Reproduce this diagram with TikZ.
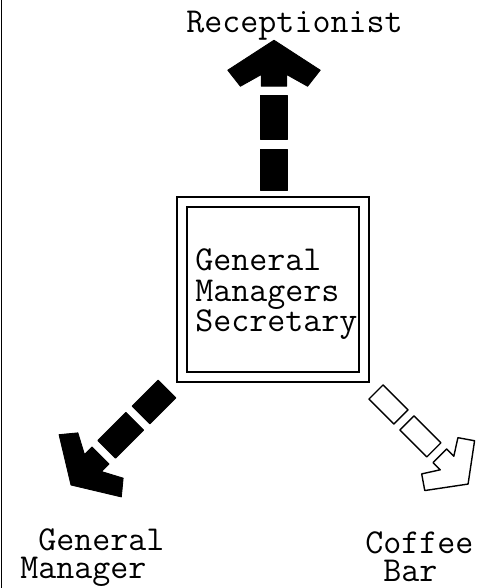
\documentclass[tikz,border=0pt]{standalone}
\usepackage{fontspec}
\usepackage{tikz}

% block arrow drawn along +x, tip at 140
\newcommand{\blockarrow}[1]{%
  \path[#1] (0,-12.5) rectangle (38,12.5);
  \path[#1] (47,-12.5) rectangle (88,12.5);
  \path[#1] (97,-12) -- (108,-12) -- (97,-32) -- (112,-44) -- (140,0)
    -- (112,44) -- (97,32) -- (108,12) -- (97,12) -- cycle;}

\begin{document}
\begin{tikzpicture}[
  roombox/.style={draw, double, double distance=1.6mm, line width=0.4mm,
    minimum width=3.63cm, minimum height=3.5cm, inner sep=0pt},
  roomlabel/.style={font=\fontsize{19.9}{15.9}\selectfont\ttfamily, inner sep=0pt},
  solidarrow/.style={fill=black, draw=black, line width=0.5pt, line join=round},
  hollowarrow/.style={fill=white, draw=black, line width=0.8pt, line join=round}]
\useasboundingbox (0,0) rectangle (9.66,11.76);
\draw[line width=0.6pt] (0.035,0) -- (0.035,11.76);

\node[roombox] (sec) at (5.455,5.97) {};
\node[roomlabel, font=\fontsize{19.9}{17.6}\selectfont\ttfamily, align=left,
  anchor=north west] (sectext) at (3.90,6.80) {General\\Managers\\Secretary};

\node[roomlabel, anchor=base] (recep) at (5.89,11.10) {Receptionist};
\node[roomlabel, align=left, anchor=north west] (gm) at (0.40,1.19)
  {\phantom{M}General\\Manager};
\node[roomlabel, align=left, anchor=north west] (cb) at (7.30,1.13)
  {Coffee\\\phantom{C}Bar};

\coordinate (upstart) at (5.48,7.96);
\coordinate (gmstart) at (3.34,3.98);
\coordinate (cbstart) at (7.52,3.92);

\begin{scope}[shift={(upstart)}, rotate=90, x=0.0214cm, y=0.021cm]
  \blockarrow{solidarrow}
\end{scope}
\begin{scope}[shift={(gmstart)}, rotate=225, x=0.0194cm, y=0.02cm]
  \blockarrow{solidarrow}
\end{scope}
\begin{scope}[shift={(cbstart)}, rotate=-45, x=0.0186cm, y=0.016cm]
  \blockarrow{hollowarrow}
\end{scope}
\end{tikzpicture}
\end{document}
